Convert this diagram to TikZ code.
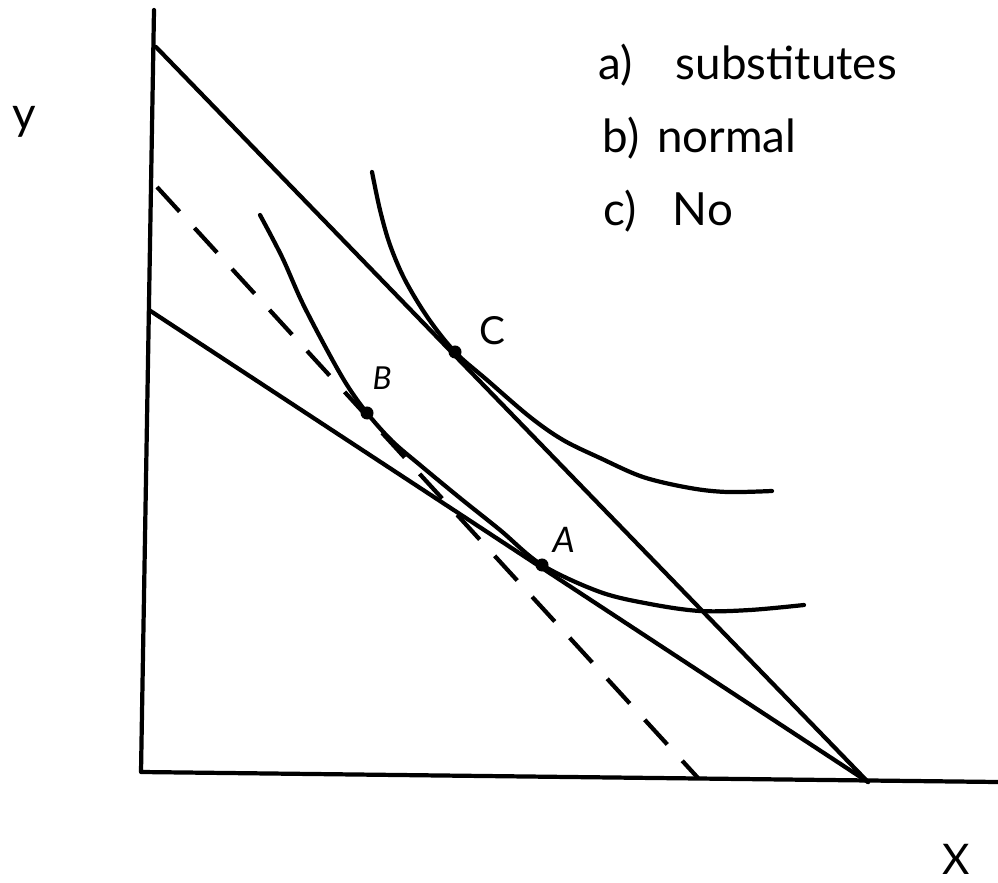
\documentclass[tikz,border=0pt]{standalone}
\usepackage{fontspec}
\setmainfont{Lato}
\begin{document}
\begin{tikzpicture}[x=0.01cm,y=-0.01cm,
  curve/.style={line width=1.2pt, line cap=round, line join=round},
  dashline/.style={line width=1.2pt, dash pattern=on 9.5pt off 6.3pt},
  dot/.style={circle, fill=black, inner sep=0pt, minimum size=0.13cm},
  lbl/.style={font=\fontsize{13}{15}\selectfont, anchor=base west, inner sep=0pt},
  ptlbl/.style={font=\fontsize{11}{13}\selectfont, anchor=base west, inner sep=0pt}]
\useasboundingbox (0,0) rectangle (998,883);
% axes
\coordinate (ytop) at (154,10);
\coordinate (O) at (141,772);
\coordinate (xend) at (998,782);
\draw[curve] (ytop) -- (O) -- (xend);
% budget lines
\coordinate (U1) at (156,47);
\coordinate (X1) at (868,782);
\coordinate (L1) at (149,310);
\draw[curve] (U1) -- (X1);
\draw[curve] (L1) -- (X1);
% dashed budget line
\coordinate (D1) at (157,187);
\coordinate (D2) at (698,778);
\draw[dashline] (D1) -- (D2);
% indifference curves
\draw[curve] plot[smooth, tension=0.55] coordinates {(372,172) (380,210) (390,245) (405,280) (428,318) (455,352) (487,380) (530,417) (563,440) (600,458) (643,477) (690,488) (727,492) (772,491)};
\draw[curve] plot[smooth, tension=0.55] coordinates {(260,215) (282,257) (302,302) (327,350) (347,385) (367,413) (392,441) (420,465) (460,498) (500,530) (542,565) (600,592) (650,604) (700,611) (750,610) (804,605)};
% points
\node[dot] (C) at (455,352) {};
\node[dot] (B) at (367,413) {};
\node[dot] (A) at (542,565) {};
\node[ptlbl] (Clbl) at (479,345) {C};
\node[ptlbl, font=\fontsize{9}{11}\selectfont\itshape] (Blbl) at (372,390) {B};
\node[ptlbl, font=\fontsize{10}{12}\selectfont\itshape] (Albl) at (552,553) {A};
% axis labels
\node[lbl] (ylbl) at (12,130) {y};
\node[lbl, font=\fontsize{12}{14}\selectfont] (xlbl) at (942,874) {X};
% answers
\node[lbl] (ansa) at (598,80) {a)\hspace{0.43cm}substitutes};
\node[lbl] (ansb) at (602,153) {b)\hspace{0.18cm}normal};
\node[lbl] (ansc) at (603,226) {c)\hspace{0.36cm}No};
\end{tikzpicture}
\end{document}
